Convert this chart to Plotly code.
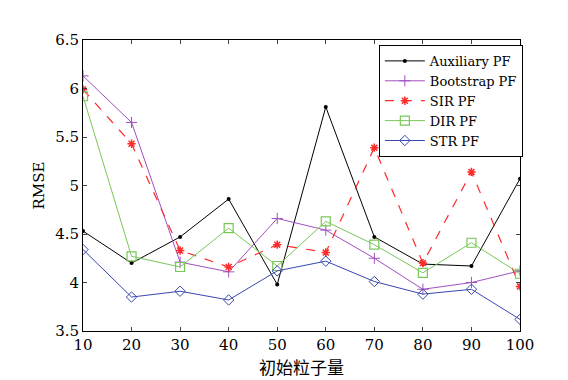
import plotly.graph_objects as go

x_vals = [10, 20, 30, 40, 50, 60, 70, 80, 90, 100]
auxiliary = [4.53, 4.20, 4.47, 4.86, 3.98, 5.81, 4.47, 4.19, 4.17, 5.07]
bootstrap = [6.13, 5.65, 4.21, 4.11, 4.66, 4.54, 4.25, 3.93, 4.00, 4.12]
sir = [5.99, 5.43, 4.33, 4.16, 4.39, 4.31, 5.39, 4.20, 5.14, 3.96]
dir_pf = [5.92, 4.27, 4.16, 4.56, 4.17, 4.63, 4.39, 4.10, 4.41, 4.09]
str_pf = [4.34, 3.85, 3.91, 3.82, 4.12, 4.22, 4.01, 3.88, 3.93, 3.62]

x_ticks = x_vals
y_ticks = [3.5, 4, 4.5, 5, 5.5, 6, 6.5]
y_tick_text = ["3.5", "4", "4.5", "5", "5.5", "6", "6.5"]

serif = "DejaVu Serif"

fig = go.Figure()
fig.add_trace(go.Scatter(x=x_vals, y=auxiliary, name="Auxiliary PF", mode="lines+markers",
                         line=dict(color="black", width=1),
                         marker=dict(symbol="circle", size=4, color="black")))
fig.add_trace(go.Scatter(x=x_vals, y=bootstrap, name="Bootstrap PF", mode="lines+markers",
                         line=dict(color="#a050c0", width=1),
                         marker=dict(symbol="cross-thin", size=8, line=dict(color="#a050c0", width=1))))
fig.add_trace(go.Scatter(x=x_vals, y=sir, name="SIR PF", mode="lines+markers",
                         line=dict(color="#ff2a2a", width=1.2, dash="dash"),
                         marker=dict(symbol="asterisk-open", size=7, line=dict(color="#ff2a2a", width=1.5))))
fig.add_trace(go.Scatter(x=x_vals, y=dir_pf, name="DIR PF", mode="lines+markers",
                         line=dict(color="#78c858", width=1),
                         marker=dict(symbol="square-open", size=9, line=dict(color="#78c858", width=1.2))))
fig.add_trace(go.Scatter(x=x_vals, y=str_pf, name="STR PF", mode="lines+markers",
                         line=dict(color="#3848b0", width=1),
                         marker=dict(symbol="diamond-open", size=8, line=dict(color="#3848b0", width=1))))

fig.update_layout(
    width=568, height=380,
    margin=dict(l=83, r=48, t=40, b=40),
    paper_bgcolor="white", plot_bgcolor="white",
    font=dict(family=serif, size=15, color="black"),
    legend=dict(x=0.677, y=0.983, xanchor="left", yanchor="top",
                bgcolor="white", bordercolor="black", borderwidth=1,
                font=dict(family=serif, size=13), tracegroupgap=0,
                itemwidth=40),
    showlegend=True,
)
fig.update_xaxes(range=[10, 100], tickvals=x_ticks, ticks="inside", ticklen=4,
                 showline=True, mirror="ticks", linecolor="black", linewidth=1,
                 showgrid=False, zeroline=False,
                 title=dict(text="初始粒子量", font=dict(family="Noto Sans CJK SC", size=17), standoff=2))
fig.update_yaxes(range=[3.5, 6.5], tickvals=y_ticks, ticktext=y_tick_text, ticks="inside", ticklen=4,
                 showline=True, mirror="ticks", linecolor="black", linewidth=1,
                 showgrid=False, zeroline=False,
                 title=dict(text="RMSE", font=dict(family=serif, size=15), standoff=6))

fig.write_html("out.html")
